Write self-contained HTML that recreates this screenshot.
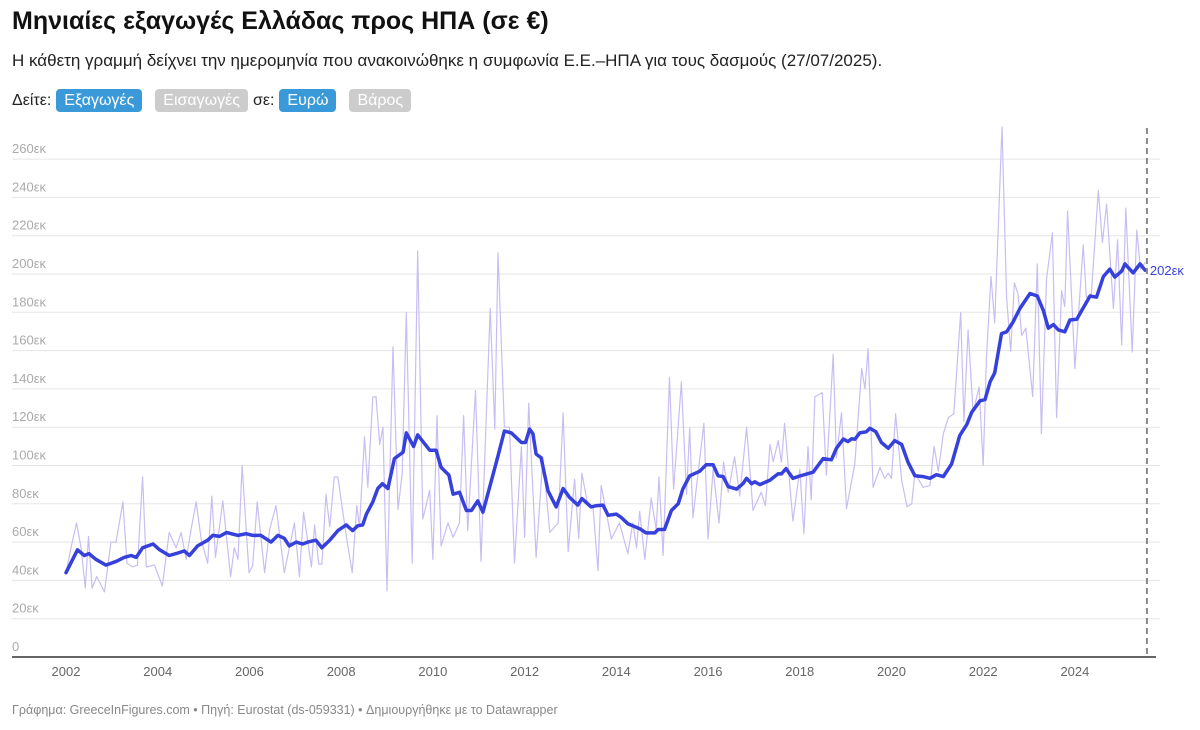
<!DOCTYPE html>
<html><head><meta charset="utf-8">
<style>
body{margin:0;background:#fff;font-family:"Liberation Sans",sans-serif;width:1200px;height:730px;overflow:hidden;position:relative}
.title{position:absolute;left:12px;top:7px;font-size:25px;font-weight:bold;color:#111}
.sub{position:absolute;left:12px;top:51px;font-size:17px;color:#222}
.ctrl{position:absolute;left:12px;top:89px;font-size:16px;color:#222;display:flex;align-items:center;gap:5px}
.pill{padding:1px 8px;border-radius:4px;font-size:16px;line-height:21px}
.on{background:#3a9ad9;color:#fff}.off{background:#ccc;color:#fff}
.foot{position:absolute;left:12px;top:703px;font-size:12.5px;color:#888}
svg{position:absolute;left:0;top:0}
</style></head><body>
<div class="title">Μηνιαίες εξαγωγές Ελλάδας προς ΗΠΑ (σε €)</div>
<div class="sub">Η κάθετη γραμμή δείχνει την ημερομηνία που ανακοινώθηκε η συμφωνία Ε.Ε.–ΗΠΑ για τους δασμούς (27/07/2025).</div>
<div class="ctrl">
<span>Δείτε:</span>
<span class="pill on">Εξαγωγές</span>
<span class="pill off" style="margin-left:8px">Εισαγωγές</span>
<span>σε:</span>
<span class="pill on">Ευρώ</span>
<span class="pill off" style="margin-left:8px">Βάρος</span>
</div>
<svg id="chart" width="1200" height="730"></svg>
<div class="foot">Γράφημα: GreeceInFigures.com • Πηγή: Eurostat (ds-059331) • Δημιουργήθηκε με το Datawrapper</div>
<script>
const yTicks=[0,20,40,60,80,100,120,140,160,180,200,220,240,260];
const xTicks=[2002,2004,2006,2008,2010,2012,2014,2016,2018,2020,2022,2024];
const rawDates=[2002.0,2002.11,2002.23,2002.33,2002.42,2002.49,2002.57,2002.67,2002.84,2002.98,2003.09,2003.24,2003.33,2003.45,2003.56,2003.67,2003.75,2003.93,2004.1,2004.25,2004.4,2004.51,2004.62,2004.73,2004.84,2004.95,2005.09,2005.18,2005.26,2005.42,2005.59,2005.67,2005.75,2005.84,2005.99,2006.07,2006.17,2006.33,2006.44,2006.58,2006.76,2006.98,2007.09,2007.18,2007.35,2007.42,2007.51,2007.58,2007.67,2007.75,2007.85,2007.93,2008.11,2008.24,2008.34,2008.4,2008.51,2008.58,2008.69,2008.76,2008.84,2008.91,2009.0,2009.13,2009.24,2009.33,2009.42,2009.55,2009.67,2009.78,2009.93,2010.0,2010.09,2010.18,2010.33,2010.44,2010.58,2010.67,2010.76,2010.93,2011.05,2011.25,2011.35,2011.42,2011.56,2011.67,2011.78,2011.93,2012.0,2012.09,2012.25,2012.4,2012.55,2012.73,2012.84,2012.95,2013.09,2013.18,2013.25,2013.38,2013.49,2013.6,2013.67,2013.89,2014.07,2014.25,2014.36,2014.44,2014.51,2014.62,2014.76,2014.87,2014.93,2015.02,2015.16,2015.25,2015.42,2015.53,2015.6,2015.67,2015.91,2016.0,2016.11,2016.24,2016.34,2016.44,2016.58,2016.69,2016.84,2016.98,2017.16,2017.25,2017.35,2017.42,2017.53,2017.6,2017.67,2017.85,2018.0,2018.09,2018.18,2018.25,2018.33,2018.49,2018.58,2018.73,2018.8,2018.91,2019.02,2019.2,2019.35,2019.42,2019.49,2019.6,2019.75,2019.85,2019.93,2020.0,2020.09,2020.22,2020.34,2020.44,2020.51,2020.69,2020.84,2020.93,2021.02,2021.13,2021.24,2021.36,2021.51,2021.58,2021.67,2021.78,2021.91,2022.0,2022.07,2022.17,2022.25,2022.41,2022.51,2022.6,2022.68,2022.76,2022.84,2022.93,2023.08,2023.18,2023.27,2023.38,2023.51,2023.6,2023.71,2023.78,2023.84,2024.0,2024.18,2024.25,2024.36,2024.51,2024.6,2024.69,2024.84,2024.93,2025.02,2025.11,2025.25,2025.35,2025.43,2025.53];
const rawValues=[44,57,70,57,36,63,36,42,34,60,60,81,49,47,48,94,47,48,37,65,57,65,51,67,81,61,49,84,52,81.5,42,57,51,100,44,47.6,81,44,66.6,79,44,70,42,75.6,47,69,48.5,48.5,85,68,94,94,63.5,44,79,68,115,88.6,135.7,136,111,120,34.5,162,77,96,180,49,212,72,87,51,126,58,70,62.5,70,126,66,139,50,182,119,211,120,120,49,110,62.5,132.5,52,104.5,65,70,127.5,55,92.8,62,96,79,79,45,89.6,61.6,70,54,70,57,76,51,83,66.6,94,53,146,87.7,143.7,85,119.5,72.8,122,61.6,98,70,101.7,86,104.5,84,120,76.5,86,79,111,102,113,101.7,122,71,98,64.4,110,82,136,138,95,158,104,127.5,77.5,100.8,150.6,140,161,88.6,99,93.3,96,93.3,127,92.4,78.4,80,96,88.6,89.6,110,97,116.6,125,127,180,123,170.8,127.8,141,100,155.8,198.7,174.5,276.8,187.6,159.6,195.4,189.4,168,171.7,136,205.3,116.6,197,221.5,125,191.3,183,233,150.6,215.2,187.6,189.8,243.6,216.5,236.5,182,217.8,163,234.4,159.2,223,202.5,206];
const smoothDates=[2002.0,2002.25,2002.4,2002.5,2002.65,2002.87,2003.1,2003.27,2003.42,2003.53,2003.67,2003.9,2004.04,2004.25,2004.4,2004.58,2004.69,2004.87,2005.09,2005.2,2005.35,2005.5,2005.75,2005.93,2006.07,2006.25,2006.47,2006.62,2006.76,2006.87,2007.02,2007.16,2007.27,2007.45,2007.58,2007.75,2007.93,2008.11,2008.25,2008.36,2008.47,2008.55,2008.69,2008.8,2008.9,2009.02,2009.16,2009.35,2009.42,2009.58,2009.67,2009.93,2010.07,2010.18,2010.35,2010.44,2010.58,2010.73,2010.84,2010.98,2011.09,2011.27,2011.42,2011.56,2011.71,2011.93,2012.02,2012.11,2012.18,2012.25,2012.36,2012.51,2012.69,2012.84,2012.98,2013.16,2013.25,2013.45,2013.56,2013.71,2013.82,2014.0,2014.11,2014.25,2014.51,2014.65,2014.84,2014.91,2015.05,2015.2,2015.35,2015.45,2015.6,2015.82,2015.96,2016.11,2016.22,2016.33,2016.44,2016.62,2016.76,2016.84,2016.95,2017.02,2017.13,2017.35,2017.53,2017.6,2017.7,2017.85,2018.0,2018.29,2018.51,2018.69,2018.8,2018.95,2019.05,2019.13,2019.2,2019.31,2019.45,2019.53,2019.66,2019.78,2019.93,2020.07,2020.22,2020.36,2020.51,2020.69,2020.84,2020.98,2021.13,2021.31,2021.49,2021.64,2021.75,2021.93,2022.04,2022.15,2022.25,2022.4,2022.51,2022.65,2022.8,2023.02,2023.18,2023.31,2023.42,2023.53,2023.64,2023.78,2023.89,2024.04,2024.15,2024.33,2024.47,2024.62,2024.76,2024.87,2025.02,2025.09,2025.27,2025.42,2025.53];
const smoothValues=[44,56,53,54,51,48,50,52,53,52,57,59,56,53,54,55.4,53,58,61,63.5,63,65,63.5,64.4,63.5,63.5,60,63.5,62,58,60,59,60,61,57,61,66,69,66,68.5,69,74.6,81,88,90.5,88,103.6,107,117,110,116,108,108,99,95,85,86,76.5,76.5,81.5,75.6,91.5,105,118,117,112,112,119,116.6,106,104,86.8,78.4,88,83.4,79.3,82.7,78.4,79,79.3,74,74.6,72.8,69.6,67,64.8,64.8,66.6,66.6,76.5,80,87.7,94.6,97,100.4,100.4,94.6,94.2,89,87.7,90.5,93.3,90.5,91.5,90,92.4,95.7,95.6,98.4,93.3,94.5,96.5,103.6,103,109,113.8,112.5,114,113.7,117,117.6,119.4,117.6,112,109,113,111,101.7,94.6,94.2,93.3,95.2,94.2,100.8,115.7,121.3,127.8,133.8,134.4,143.7,148.4,168.9,169.8,174.9,182,189.8,188.5,181,171.7,173.6,170.8,169.8,176,176.4,181,188.5,187.9,198.7,202.5,198.4,201.5,205.3,200.6,205.3,202];
const lastLabel="202εκ";
const eventDate=2025.57;

const NS="http://www.w3.org/2000/svg";
const svg=document.getElementById('chart');
const X0=66,PX_PER_YEAR=45.86,Y0=657,PX_PER_K=1.915,LEFT=12,RIGHT=1160;
function xs(t){return X0+(t-2002)*PX_PER_YEAR;}
function ys(v){return Y0-v*PX_PER_K;}
function mk(tag,attrs){const e=document.createElementNS(NS,tag);for(const k in attrs)e.setAttribute(k,attrs[k]);svg.appendChild(e);return e;}

yTicks.forEach(v=>{
  if(v>0){const g=mk('line',{x1:LEFT,x2:RIGHT,y1:ys(v),y2:ys(v),stroke:'#e5e5e5','stroke-width':1});
  
  }
  const t=mk('text',{x:LEFT,y:ys(v)-6,'font-size':13,fill:'#aaa','font-family':'Liberation Sans, sans-serif'});
  t.textContent=v===0?'0':v+'εκ';
  
  
});
xTicks.forEach(y=>{
  const t=mk('text',{x:xs(y),y:Y0+19,'font-size':13,fill:'#666','text-anchor':'middle','font-family':'Liberation Sans, sans-serif'});
  t.textContent=y;
  
  
});
const ax=mk('line',{x1:LEFT,x2:1156,y1:Y0,y2:Y0,stroke:'#333','stroke-width':1.5});



const raw=mk('path',{d:rawDates.map((t,i)=>(i?'L':'M')+xs(t).toFixed(1)+','+ys(rawValues[i]).toFixed(1)).join(''),fill:'none',stroke:'#c9bdf2','stroke-width':1.2,'stroke-linejoin':'round'});



const sm=mk('path',{d:smoothDates.map((t,i)=>(i?'L':'M')+xs(t).toFixed(1)+','+ys(smoothValues[i]).toFixed(1)).join(''),fill:'none',stroke:'#3641dc','stroke-width':3.5,'stroke-linejoin':'round','stroke-linecap':'round'});



const ev=mk('line',{x1:xs(eventDate),x2:xs(eventDate),y1:128,y2:Y0,stroke:'#888','stroke-width':2,'stroke-dasharray':'6,4'});



const lbl=mk('text',{x:xs(eventDate)+3,y:ys(smoothValues[smoothValues.length-1])+5,'font-size':13,fill:'#3641dc','font-family':'Liberation Sans, sans-serif'});
lbl.textContent=lastLabel;


</script>
</body></html>
